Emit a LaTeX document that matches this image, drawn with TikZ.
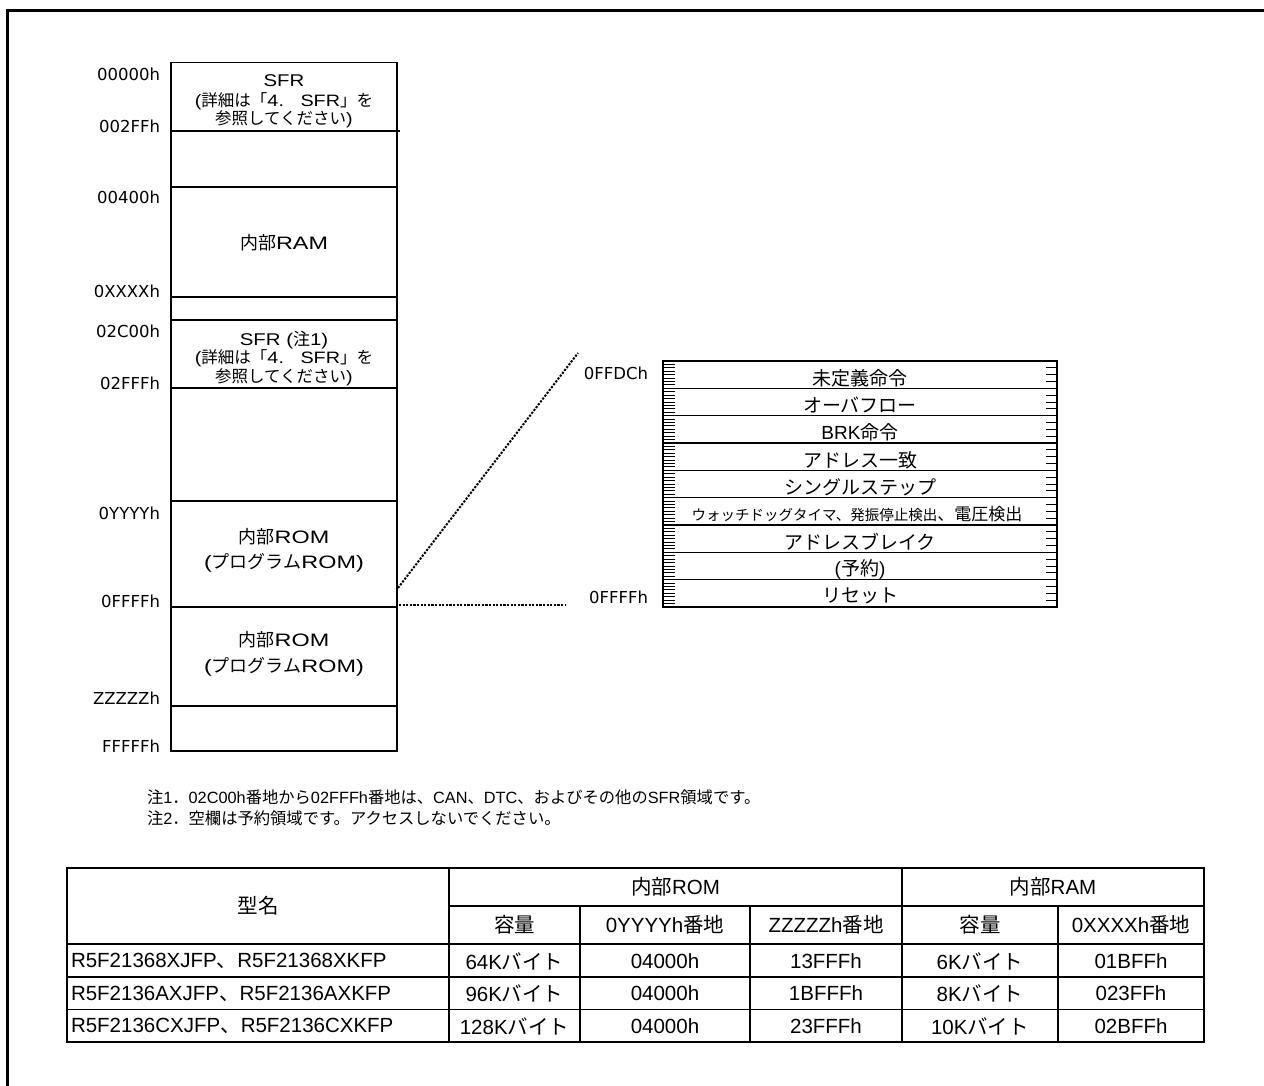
\documentclass[tikz,border=0pt]{standalone}
\usepackage{fontspec}
\setmainfont{Liberation Sans}
\newfontfamily\widefont{Liberation Sans}[FakeStretch=1.2]
\newfontfamily\widerfont{Liberation Sans}[FakeStretch=1.3]
\newfontfamily\addrfont{DejaVu Sans}
\newfontfamily\jpfont{Noto Sans CJK JP}
\newcommand\latinfam{\rmfamily}
\XeTeXinterchartokenstate=1
\newXeTeXintercharclass\JPclass
\newcount\jpcnt
\def\setjprange#1#2{\jpcnt=#1\relax\loop\ifnum\jpcnt<#2\relax\XeTeXcharclass\jpcnt=\JPclass\advance\jpcnt by 1\repeat}
\setjprange{"3000}{"3100}
\setjprange{"4E00}{"A000}
\setjprange{"FF00}{"FFF0}
\jpcnt="20 \loop\ifnum\jpcnt<"100 \XeTeXcharclass\jpcnt=0 \advance\jpcnt by 1 \repeat
\XeTeXinterchartoks 0 \JPclass = {\jpfont}
\XeTeXinterchartoks 4095 \JPclass = {\jpfont}
\XeTeXinterchartoks \JPclass 0 = {\latinfam}
\XeTeXinterchartoks \JPclass 4095 = {\latinfam}
\newcommand\fsz[1]{\fontsize{#1}{#1}\selectfont}
\begin{document}
\begin{tikzpicture}[x=1pt,y=-1pt,
  every node/.style={inner sep=0pt, outer sep=0pt},
  addr/.style={anchor=east, font=\addrfont\fsz{16.5}},
  membig/.style={font={\let\latinfam\widerfont\widerfont\fsz{18}}},
  memsfr/.style={font={\let\latinfam\widefont\widefont\fsz{17}}},
  memsmall/.style={font={\let\latinfam\widefont\widefont\fsz{16.5}}},
  memline/.style={line width=1.3pt},
  vtxt/.style={font=\fsz{19}},
  tick/.style={line width=0.9pt},
  dotline/.style={line width=2pt, dash pattern=on 2.2pt off 1.4pt},
  note/.style={anchor=west, font=\fsz{16.3}},
  tbl/.style={font=\fsz{20.5}},
  tbll/.style={anchor=west, font=\fsz{20.5}},
  tline/.style={line width=1.3pt},
]
\useasboundingbox (0,0) rectangle (1264,1086);
% outer frame
\draw[line width=3pt] (7,1100) -- (7,11) -- (1280,11);

% memory map
\draw[memline] (171,62.7) rectangle (397,751);
\foreach \y in {187,297,320,388,501,607,706} \draw[memline] (171,\y) -- (397,\y);
\draw[memline] (171,131) -- (400,131);

\node[addr] (a0) at (160,74) {00000h};
\node[addr] (a1) at (160,126) {002FFh};
\node[addr] (a2) at (160,197) {00400h};
\node[addr] (a3) at (160,291) {0XXXXh};
\node[addr] (a4) at (160,331) {02C00h};
\node[addr] (a5) at (160,383) {02FFFh};
\node[addr] (a6) at (160,513) {0YYYYh};
\node[addr] (a7) at (160,601) {0FFFFh};
\node[addr] (a8) at (160,698) {ZZZZZh};
\node[addr] (a9) at (160,746) {FFFFFh};

\node[memsfr] (sfrA) at (284,81) {SFR};
\node[memsmall] (sfrB) at (284,101) {(詳細は「4.　SFR」を};
\node[memsmall] (sfrC) at (284,119) {参照してください)};
\node[membig] (ram) at (284,243) {内部RAM};
\node[memsfr] (sfr2A) at (284,340) {SFR (注1)};
\node[memsmall] (sfr2B) at (284,358) {(詳細は「4.　SFR」を};
\node[memsmall] (sfr2C) at (284,377) {参照してください)};
\node[membig] (rom1A) at (284,537) {内部ROM};
\node[membig] (rom1B) at (284,563) {(プログラムROM)};
\node[membig] (rom2A) at (284,640) {内部ROM};
\node[membig] (rom2B) at (284,667) {(プログラムROM)};

% vector table
\draw[memline] (663,361) rectangle (1057,607);
\foreach \i in {1,...,8} \draw[memline] (663,361+\i*27.333) -- (1057,361+\i*27.333);
\foreach \i in {0,...,8} {
  \foreach \k in {1,...,7} {
    \draw[tick] (663,361+\i*27.333+\k*3.4167) -- ++(12,0);
  }
  \foreach \k in {1,2,3} {
    \draw[tick] (1057,361+\i*27.333+\k*6.833) -- ++(-11,0);
  }
}
\node[addr] (vA) at (648,373) {0FFDCh};
\node[addr] (vB) at (648,597) {0FFFFh};
\node[vtxt] (v1) at (860,378) {未定義命令};
\node[vtxt] (v2) at (860,405) {オーバフロー};
\node[vtxt] (v3) at (860,432) {BRK命令};
\node[vtxt] (v4) at (860,460) {アドレス一致};
\node[vtxt] (v5) at (860,487) {シングルステップ};
\node[vtxt] (v6) at (857,514) {{\fsz{14.5}ウォッチドッグタイマ、発振停止検出}\fsz{17}、電圧検出};
\node[vtxt] (v7) at (860,542) {アドレスブレイク};
\node[vtxt] (v8) at (860,569) {(予約)};
\node[vtxt] (v9) at (860,596) {リセット};

% dotted connectors
\coordinate (dA) at (398,588);
\coordinate (dB) at (578,353);
\coordinate (dC) at (399,605);
\coordinate (dD) at (566,605);
\draw[dotline] (dA) -- (dB);
\draw[dotline] (dC) -- (dD);

% notes
\node[note] (n1) at (147,797) {注1．02C00h番地から02FFFh番地は、CAN、DTC、およびその他のSFR領域です。};
\node[note] (n2) at (147,818) {注2．空欄は予約領域です。アクセスしないでください。};

% table
\draw[tline] (449,906) -- (1204,906);
\draw[line width=2pt] (67,944) -- (1204,944);
\draw[tline] (67,977) -- (1204,977);
\draw[tline] (67,1009.5) -- (1204,1009.5);
\draw[tline] (449,868) -- (449,1042);
\draw[tline] (902,868) -- (902,1042);
\foreach \x in {580,750,1058} \draw[tline] (\x,906) -- (\x,1042);
\draw[line width=2.2pt] (67,868) rectangle (1204,1042);

\node[tbl] (h0) at (258,906) {型名};
\node[tbl] (h1) at (675.5,887) {内部ROM};
\node[tbl] (h2) at (1053,887) {内部RAM};
\node[tbl] (h3) at (514.5,925) {容量};
\node[tbl] (h4) at (665,925) {0YYYYh番地};
\node[tbl] (h5) at (826,925) {ZZZZZh番地};
\node[tbl] (h6) at (980,925) {容量};
\node[tbl] (h7) at (1131,925) {0XXXXh番地};

\node[tbll] (r1a) at (71,961) {R5F21368XJFP、R5F21368XKFP};
\node[tbl] (r1b) at (514.5,961) {64Kバイト};
\node[tbl] (r1c) at (665,961) {04000h};
\node[tbl] (r1d) at (826,961) {13FFFh};
\node[tbl] (r1e) at (980,961) {6Kバイト};
\node[tbl] (r1f) at (1131,961) {01BFFh};

\node[tbll] (r2a) at (71,993.5) {R5F2136AXJFP、R5F2136AXKFP};
\node[tbl] (r2b) at (514.5,993.5) {96Kバイト};
\node[tbl] (r2c) at (665,993.5) {04000h};
\node[tbl] (r2d) at (826,993.5) {1BFFFh};
\node[tbl] (r2e) at (980,993.5) {8Kバイト};
\node[tbl] (r2f) at (1131,993.5) {023FFh};

\node[tbll] (r3a) at (71,1026) {R5F2136CXJFP、R5F2136CXKFP};
\node[tbl] (r3b) at (514.5,1026) {128Kバイト};
\node[tbl] (r3c) at (665,1026) {04000h};
\node[tbl] (r3d) at (826,1026) {23FFFh};
\node[tbl] (r3e) at (980,1026) {10Kバイト};
\node[tbl] (r3f) at (1131,1026) {02BFFh};
\end{tikzpicture}
\end{document}
